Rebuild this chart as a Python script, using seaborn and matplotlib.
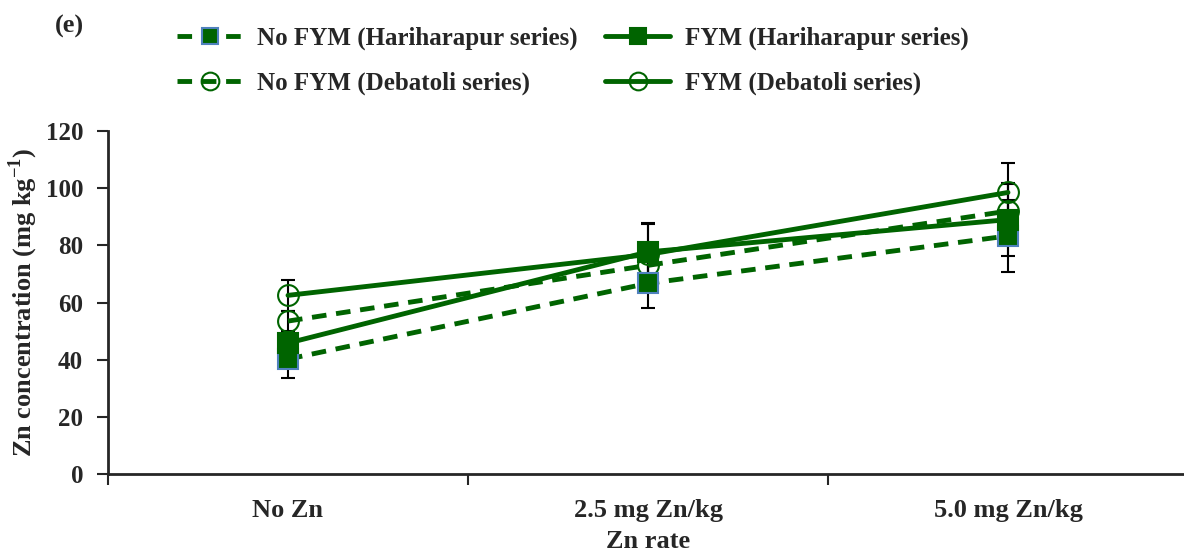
import matplotlib
matplotlib.use("Agg")
import matplotlib.pyplot as plt
import pandas as pd
import seaborn as sns

# Data
zn_rates = ["No Zn", "2.5 mg Zn/kg", "5.0 mg Zn/kg"]

nofym_hari = [40.2, 66.7, 83.3]
fym_hari = [45.8, 77.7, 89.0]
nofym_deb = [53.5, 73.0, 92.0]
fym_deb = [62.5, 76.8, 98.5]

nofym_hari_err = [6.6, 8.6, 12.5]
fym_hari_err = [4.0, 10.0, 12.6]
nofym_deb_err = [3.5, 7.8, 9.8]
fym_deb_err = [5.3, 10.8, 10.3]

series_names = ["No FYM (Hariharapur series)", "FYM (Hariharapur series)",
                "No FYM (Debatoli series)", "FYM (Debatoli series)"]

sns.set_style("ticks")
plt.rcParams['font.family'] = ['Liberation Serif', 'DejaVu Serif']
plt.rcParams['font.weight'] = 'bold'
plt.rcParams['mathtext.fontset'] = 'custom'
plt.rcParams['mathtext.rm'] = 'Liberation Serif:bold'

green = "#006400"

fig = plt.figure(figsize=(11.84, 5.56), dpi=100)
ax = fig.add_axes([108 / 1184, 82 / 556, 1080 / 1184, 343 / 556])

styles = [
    dict(vals=nofym_hari, err=nofym_hari_err, ls=(0, (3, 2)), marker="s", mfc=green, mec="#4f81bd", z=3),
    dict(vals=fym_hari, err=fym_hari_err, ls="-", marker="s", mfc=green, mec=green, z=4),
    dict(vals=nofym_deb, err=nofym_deb_err, ls=(0, (3, 2)), marker="o", mfc="none", mec=green, z=2),
    dict(vals=fym_deb, err=fym_deb_err, ls="-", marker="o", mfc="none", mec=green, z=2),
]

x_pos = list(range(len(zn_rates)))
handles = []
for name, st in zip(series_names, styles):
    df = pd.DataFrame({"x": x_pos, "y": st["vals"]})
    ax.errorbar(x_pos, st["vals"], yerr=st["err"], fmt="none", ecolor="black",
                elinewidth=1.5, capsize=5, capthick=1.5, zorder=1)
    sns.lineplot(data=df, x="x", y="y", ax=ax, color=green, linewidth=3.5,
                 linestyle=st["ls"], marker=st["marker"], markersize=14 if st["marker"] == "s" else 15,
                 markerfacecolor=st["mfc"], markeredgecolor=st["mec"], markeredgewidth=1.5,
                 zorder=st["z"], label=name, legend=False)
    handles.append(ax.lines[-1])

ax.set_xlim(-0.5, 2.5)
ax.set_ylim(0, 120)
ax.set_yticks(range(0, 121, 20))
ax.set_xticks([-0.5, 0.5, 1.5, 2.5], minor=False)
ax.set_xticklabels([])
ax.set_xticks(x_pos, minor=True)
ax.set_xticklabels(zn_rates, minor=True)
ax.tick_params(axis="x", which="minor", length=0, pad=18, labelsize=19)
ax.tick_params(axis="x", which="major", length=8, width=1.5, direction="out")
ax.tick_params(axis="y", length=8, width=1.5, direction="out", labelsize=18, pad=10)
for s in ["top", "right"]:
    ax.spines[s].set_visible(False)
for s in ["left", "bottom"]:
    ax.spines[s].set_linewidth(2)

ax.set_xlabel("Zn rate", fontsize=19, fontweight="bold", labelpad=6)
ax.set_ylabel("Zn concentration (mg kg$^{-1}$)", fontsize=19, fontweight="bold", labelpad=4)

# legend is filled column by column
order = [0, 2, 1, 3]
fig.legend(handles=[handles[i] for i in order], labels=[series_names[i] for i in order],
           ncol=2, loc="upper left", bbox_to_anchor=(177 / 1184, 1 - 27 / 556),
           frameon=False, fontsize=18, borderpad=0, borderaxespad=0,
           handlelength=2.6, handletextpad=0.6, columnspacing=1.1, labelspacing=0.85,
           markerscale=0.85)

fig.text(55 / 1184, 1 - 26 / 556, "(e)", fontsize=19, fontweight="bold", va="center")

fig.savefig("out.png", dpi=100)
